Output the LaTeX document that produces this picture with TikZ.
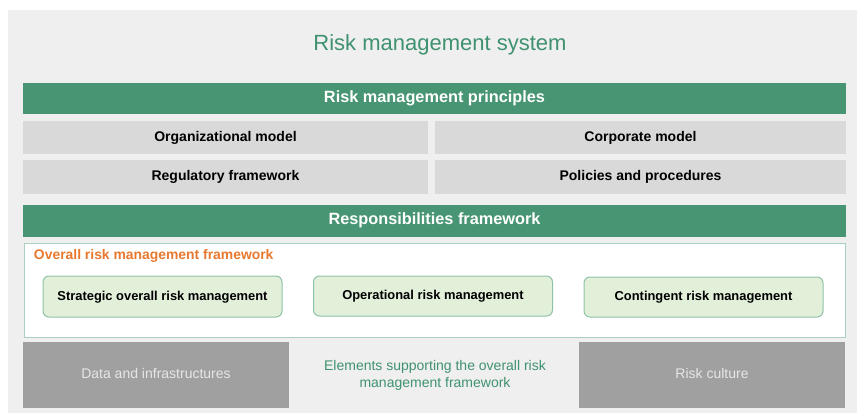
\documentclass[tikz,border=0pt]{standalone}
\usepackage{fontspec}
\setmainfont{Liberation Sans}
\definecolor{bgray}{HTML}{EFEFEF}
\definecolor{tgreen}{HTML}{3F9270}
\definecolor{bgreen}{HTML}{479572}
\definecolor{lgray}{HTML}{D9D9D9}
\definecolor{dgray}{HTML}{A0A0A0}
\definecolor{dtext}{HTML}{E6E6E6}
\definecolor{ifill}{HTML}{E2EFD9}
\definecolor{iborder}{HTML}{8FC2A8}
\definecolor{fborder}{HTML}{A8D2BE}
\definecolor{orng}{HTML}{E8792E}
\begin{document}
\begin{tikzpicture}[x=1pt,y=-1pt,
  box/.style={inner sep=0pt,outer sep=0pt,align=center},
  one/.style={text height=0.72em,text depth=0pt},
  bar/.style={box,one,fill=bgreen,text=white,font=\fontsize{16.3}{18}\selectfont\bfseries,minimum width=823pt,minimum height=31pt},
  cell/.style={box,one,fill=lgray,text=black,font=\fontsize{14}{16}\selectfont\bfseries,minimum height=33pt},
  inner/.style={box,one,fill=ifill,draw=iborder,line width=1pt,rounded corners=6pt,font=\fontsize{12.9}{15}\selectfont\bfseries,minimum width=239pt,minimum height=40pt},
  dbox/.style={box,one,fill=dgray,text=dtext,font=\fontsize{14}{17}\selectfont,minimum width=266pt,minimum height=66pt}]
\useasboundingbox (0,0) rectangle (857,415);
\fill[white] (0,0) rectangle (857,415);
\fill[bgray] (8,10) rectangle (857,413);
\node[box,one,text=tgreen,font=\fontsize{22}{26}\selectfont] (title) at (440,47) {Risk management system};
\node[bar] (principles) at (434.5,98.5) {Risk management principles};
\node[cell,minimum width=405pt] (org) at (225.5,137.5) {Organizational model};
\node[cell,minimum width=411pt] (corp) at (640.5,137.5) {Corporate model};
\node[cell,minimum width=405pt,minimum height=34pt] (reg) at (225.5,177) {Regulatory framework};
\node[cell,minimum width=411pt,minimum height=34pt] (pol) at (640.5,177) {Policies and procedures};
\node[bar,minimum height=32pt] (resp) at (434.5,221) {Responsibilities framework};
\node[box,fill=white,draw=fborder,line width=1pt,minimum width=821pt,minimum height=94pt] (frame) at (434.5,290) {};
\node[box,one,anchor=west,text=orng,font=\fontsize{13.9}{16}\selectfont\bfseries] (flabel) at (34,255.5) {Overall risk management framework};
\node[inner,minimum height=41pt] (strat) at (162.5,296.5) {Strategic overall risk management};
\node[inner] (oper) at (433,296) {Operational risk management};
\node[inner] (cont) at (703.5,297) {Contingent risk management};
\node[dbox] (data) at (156,375) {Data and infrastructures};
\node[box,text=tgreen,font=\fontsize{14}{17}\selectfont] (elem) at (435,375.5) {Elements supporting the overall risk\\management framework};
\node[dbox] (culture) at (712,375) {Risk culture};
\end{tikzpicture}
\end{document}
